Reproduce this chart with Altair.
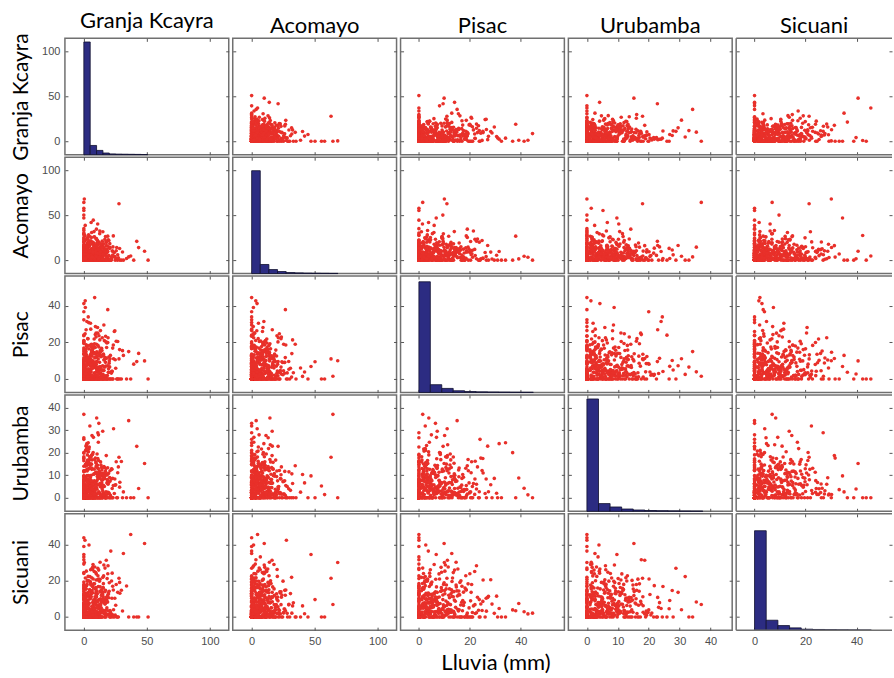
import altair as alt
import pandas as pd

STATIONS = ["Granja Kcayra", "Acomayo", "Pisac", "Urubamba", "Sicuani"]
KEYS = ["g", "a", "p", "u", "s"]

# daily rainfall (mm) read/estimated from the scatter panels
granja_kcayra = [
    0, 3.2, 12.5, 0, 7.1, 1.4, 22.3, 0, 5.6, 16.8, 0, 2.1, 9.4, 28.6, 0, 4.3, 13.2, 0.8, 18.5, 6.7,
    0, 0, 10.9, 2.6, 31.4, 8.3, 0, 14.7, 1.9, 0, 20.6, 5.2, 0, 3.8, 11.6, 0, 24.9, 7.5, 0.6, 17.3,
    4.9, 0, 0, 13.8, 2.4, 8.9, 0, 26.7, 1.2, 0, 15.4, 6.3, 37.2, 0, 3.1, 10.2, 0, 19.6, 0.4, 7.8,
    0, 12.1, 5.9, 0, 2.8, 21.7, 0, 9.7, 0, 16.2, 1.6, 4.5, 0, 29.8, 11.3, 0, 6.9, 3.5, 0, 14.1,
    8.1, 0, 2.2, 17.9, 0, 5.4, 0, 12.8, 23.6, 1.1, 0, 9.2, 3.9, 0, 43.5, 6.1, 0, 15.7, 2.9, 0,
    0, 7.3, 13.4, 0, 1.7, 0, 19.2, 4.1, 10.6, 0, 27.4, 2.3, 0, 8.6, 0, 16.5, 5.1, 0, 11.9, 0.9,
    3.6, 0, 22.8, 6.5, 0, 14.3, 0, 2.7, 9.9, 0, 1.3, 18.1, 0, 5.8, 33.9, 0, 12.4, 7.2, 0, 4.7,
    0, 10.4, 0, 3.3, 25.3, 0, 6.8, 15.1, 0, 1.5, 8.4, 0, 20.1, 2.5, 0, 11.1, 0, 4.2, 17.4, 0,
    6.2, 0, 1.8, 13.1, 0, 9.1, 0, 3.7, 48.2, 0, 5.5, 16.9, 0, 2.1, 11.8, 0, 23.1, 0, 7.6, 1.0,
    0, 14.9, 4.4, 0, 8.2, 0, 2.0, 19.8, 0, 12.6, 6.4, 0, 30.7, 1.6, 0, 3.4, 9.6, 0, 15.9, 0,
    2.6, 0, 7.9, 0, 17.1, 3.0, 0, 10.8, 0, 26.1, 4.8, 0, 13.6, 0, 1.9, 21.4, 0, 6.0, 0, 8.8,
    0, 5.0, 0, 11.4, 1.4, 0, 39.6, 7.4, 0, 15.3, 0, 3.9, 9.5, 0, 18.8, 2.2, 0, 12.9, 0, 4.0,
    10.1, 0, 3.1, 0, 6.6, 24.2, 0, 1.2, 14.0, 0, 8.0, 0, 2.8, 19.0, 0, 5.7, 0, 35.6, 0, 11.0,
    0, 1.5, 16.0, 0, 4.6, 0, 9.0, 0, 51.0, 2.4, 0, 13.0, 6.1, 0, 22.0, 0, 3.3, 0, 7.0, 17.6,
    5.3, 0, 0, 12.2, 0, 2.7, 27.9, 0, 8.5, 0, 1.1, 15.0, 0, 4.1, 0, 10.0, 0, 20.9, 6.8, 42.0,
    4.2, 9.8, 15.6, 2.3, 11.2, 6.9, 19.4, 3.1, 13.7, 8.0, 1.6, 17.2, 5.4, 10.5, 24.6, 7.7, 2.9, 14.1, 20.8, 6.2,
    12.4, 3.5, 8.6, 18.3, 1.9, 10.0, 5.9, 22.5, 9.1, 4.7, 15.0, 2.2, 11.9, 7.3, 16.4, 3.8, 26.9, 8.9, 1.2, 13.3,
    6.6, 14.8, 2.6, 9.4, 21.1, 5.0, 12.7, 1.4, 17.8, 7.9, 3.3, 10.9, 19.9, 4.5, 8.3, 13.9, 2.0, 16.0, 6.0, 11.5,
    9.5, 1.7, 18.7, 5.6, 12.0, 3.0, 7.4, 15.3, 10.2, 23.4, 4.1, 8.7, 2.5, 14.4, 6.4, 20.2, 11.1, 1.1, 9.0, 17.5,
    3.9, 11.7, 7.0, 16.7, 2.8, 13.0, 8.2, 4.9, 19.0, 1.5, 10.7, 6.8, 28.4, 12.6, 5.3, 15.9, 3.6, 9.8, 7.6, 14.6,
    15.2, 5.1, 10.3, 2.1, 8.5, 17.0, 4.4, 12.2, 6.1, 21.8, 1.8, 9.6, 13.6, 3.4, 18.1, 7.1, 11.4, 2.7, 16.3, 5.7,
    7.8, 20.5, 3.2, 13.4, 9.3, 1.0, 14.9, 6.5, 11.0, 4.0, 18.9, 8.1, 2.4, 25.7, 10.4, 5.5, 12.9, 16.8, 3.7, 9.2,
    2.9, 12.8, 17.6, 6.3, 4.6, 10.1, 22.9, 8.4, 1.3, 14.2, 7.2, 19.6, 3.0, 11.8, 5.8, 9.7, 15.5, 2.2, 13.1, 6.7,
]
acomayo = [
    0, 4.1, 0, 15.2, 8.7, 0, 2.3, 0, 21.5, 6.0, 0, 11.7, 1.2, 0, 33.1, 5.3, 0, 9.8, 0, 3.0,
    13.9, 0, 1.7, 7.4, 0, 26.2, 0, 3.6, 10.3, 0, 18.4, 0, 2.0, 0, 5.9, 12.6, 0, 44.7, 1.0, 0,
    0, 8.5, 0, 2.9, 17.0, 0, 6.2, 0, 1.4, 23.8, 0, 11.0, 4.7, 0, 0, 14.5, 3.2, 0, 68.3, 7.7,
    2.1, 0, 12.3, 0, 5.1, 0, 29.4, 1.8, 0, 9.3, 0, 16.1, 3.5, 0, 7.0, 0, 20.2, 0, 10.6, 0.7,
    0, 6.6, 0, 19.7, 0, 2.5, 11.9, 0, 4.4, 38.8, 0, 1.3, 8.1, 0, 14.0, 0, 5.6, 0, 24.6, 0,
    9.6, 0, 3.8, 0, 13.3, 0, 1.6, 7.8, 0, 17.8, 2.7, 0, 55.4, 0, 6.4, 11.2, 0, 4.0, 0, 27.6,
    0, 1.1, 10.1, 0, 22.4, 0, 5.0, 0, 3.3, 15.6, 0, 8.3, 0, 42.0, 1.9, 0, 12.8, 0, 6.9, 0,
    4.6, 0, 0, 18.9, 2.4, 0, 9.0, 31.7, 0, 5.7, 0, 13.5, 0, 1.5, 7.2, 0, 20.9, 3.1, 0, 11.5,
    0, 16.7, 0, 6.1, 1.0, 0, 25.3, 0, 10.0, 3.9, 0, 0, 64.5, 7.5, 0, 2.2, 14.8, 0, 4.9, 0,
    8.0, 0, 2.6, 0, 12.0, 35.2, 0, 5.4, 0, 1.7, 19.1, 0, 9.1, 0, 3.4, 0, 16.4, 6.3, 0, 28.5,
    0, 3.7, 11.4, 0, 1.2, 0, 7.1, 22.1, 0, 14.2, 0, 4.3, 0, 50.3, 2.8, 0, 8.8, 0, 12.7, 5.5,
    1.4, 0, 6.8, 17.4, 0, 2.9, 0, 10.7, 0, 4.2, 30.2, 0, 1.6, 0, 9.4, 0, 13.1, 0, 57.9, 3.0,
    0, 20.0, 0, 4.8, 0, 8.6, 1.9, 0, 15.9, 0, 6.5, 0, 2.5, 26.8, 0, 11.3, 0, 3.6, 0, 40.4,
    7.3, 0, 13.7, 0, 2.0, 0, 5.2, 47.1, 0, 9.7, 0, 1.1, 18.2, 0, 3.8, 0, 23.3, 0, 10.4, 0,
    0, 5.8, 0, 2.4, 12.4, 0, 63.0, 0, 7.9, 0, 3.3, 16.3, 0, 1.5, 0, 34.6, 6.7, 0, 9.2, 21.0,
    10.6, 3.0, 18.2, 7.5, 13.8, 1.6, 22.7, 5.2, 9.9, 15.4, 2.7, 26.3, 6.8, 11.6, 4.1, 19.5, 8.4, 1.9, 14.0, 30.8,
    5.6, 16.9, 2.3, 12.1, 8.8, 24.0, 4.7, 10.2, 1.4, 20.6, 7.0, 13.4, 3.6, 17.7, 9.5, 28.2, 6.1, 11.9, 2.0, 15.1,
    19.2, 8.1, 4.3, 14.7, 1.2, 10.8, 32.5, 6.4, 16.2, 3.3, 12.5, 9.0, 21.9, 2.6, 7.7, 18.0, 5.0, 13.1, 25.4, 1.7,
    3.8, 11.2, 15.8, 6.0, 20.1, 2.9, 9.3, 13.9, 4.8, 27.1, 8.6, 1.0, 17.3, 10.4, 5.7, 14.3, 2.4, 22.8, 7.2, 12.0,
    14.9, 1.5, 7.9, 23.3, 4.4, 11.5, 17.0, 3.1, 9.7, 6.6, 19.8, 2.2, 13.0, 29.6, 5.4, 10.0, 15.6, 8.3, 1.8, 21.2,
    6.9, 18.6, 10.9, 2.8, 14.5, 5.9, 26.7, 8.0, 12.8, 1.3, 16.4, 4.0, 9.2, 20.4, 3.4, 13.6, 7.4, 24.9, 11.0, 4.6,
    2.1, 13.2, 5.3, 17.9, 9.8, 22.0, 1.1, 11.4, 7.6, 15.0, 3.9, 31.9, 6.3, 10.5, 18.8, 2.5, 14.1, 8.7, 4.2, 16.6,
    12.3, 7.1, 20.9, 3.5, 10.1, 16.0, 5.8, 25.8, 1.6, 13.7, 8.9, 4.5, 19.1, 11.7, 2.0, 23.6, 6.7, 14.8, 9.4, 3.2,
]
pisac = [
    0, 2.7, 9.1, 0, 14.6, 0, 4.2, 20.3, 0, 1.5, 7.0, 0, 11.8, 0, 3.4, 0, 26.5, 5.8, 0, 16.2,
    1.0, 0, 6.3, 0, 12.9, 3.1, 0, 0, 18.7, 8.4, 0, 2.2, 0, 30.9, 4.9, 0, 10.5, 0, 1.8, 23.4,
    0, 13.5, 0, 5.0, 0, 1.3, 8.8, 0, 39.2, 2.6, 0, 15.8, 0, 6.7, 0, 3.9, 21.1, 0, 10.0, 0,
    4.4, 0, 17.5, 0, 2.0, 0, 9.6, 25.2, 0, 1.2, 12.2, 0, 5.5, 0, 0, 7.6, 0, 34.0, 3.0, 0,
    0, 8.0, 0, 1.6, 19.4, 0, 3.6, 0, 11.1, 6.0, 0, 28.7, 0, 2.4, 14.0, 0, 4.7, 0, 9.0, 1.1,
    15.1, 0, 3.3, 0, 7.3, 0, 22.6, 1.9, 0, 10.7, 0, 5.2, 0, 44.6, 2.9, 0, 13.0, 0, 6.5, 0,
    0, 4.0, 0, 12.5, 0, 2.1, 0, 18.0, 7.9, 0, 1.4, 0, 24.0, 3.8, 0, 9.3, 0, 16.6, 0, 5.4,
    2.3, 0, 10.2, 0, 5.9, 32.4, 0, 1.0, 0, 14.3, 0, 3.2, 8.6, 0, 20.8, 0, 1.7, 0, 11.4, 0,
    0, 6.9, 0, 2.8, 0, 17.2, 4.5, 0, 9.9, 0, 27.3, 0, 1.5, 13.3, 0, 5.1, 0, 36.8, 0, 3.5,
    7.7, 0, 1.2, 0, 21.9, 0, 3.0, 12.0, 0, 6.2, 0, 0, 15.5, 2.0, 0, 8.2, 0, 4.3, 29.6, 0,
    0, 11.6, 0, 4.8, 1.3, 0, 16.0, 0, 7.1, 0, 2.5, 41.3, 0, 9.4, 0, 3.7, 19.9, 0, 1.0, 0,
    5.7, 0, 13.9, 0, 2.6, 0, 8.1, 0, 23.7, 1.6, 0, 10.9, 0, 4.1, 0, 17.9, 0, 6.6, 0, 2.2,
    0, 3.1, 0, 9.8, 0, 26.0, 1.8, 0, 12.7, 5.3, 0, 0, 3.9, 38.0, 0, 7.4, 0, 15.0, 0, 1.4,
    10.3, 0, 4.6, 0, 18.5, 0, 2.0, 6.8, 0, 31.5, 0, 1.1, 0, 13.6, 3.4, 0, 22.0, 0, 8.7, 0,
    0, 1.7, 16.9, 0, 5.6, 0, 11.0, 0, 3.3, 0, 42.8, 7.2, 0, 2.7, 0, 19.0, 4.2, 0, 0, 9.5,
    8.3, 2.1, 13.6, 5.2, 18.4, 10.0, 3.7, 22.1, 6.8, 1.4, 15.2, 9.1, 4.5, 12.3, 26.4, 7.0, 2.9, 16.8, 11.1, 5.9,
    3.0, 11.9, 6.3, 19.7, 1.8, 9.4, 14.1, 4.2, 24.3, 8.0, 12.7, 2.5, 17.5, 6.0, 10.6, 3.3, 20.5, 7.8, 13.2, 1.1,
    15.8, 4.8, 9.7, 2.2, 12.9, 7.3, 21.4, 1.5, 11.2, 17.1, 5.5, 28.2, 3.6, 8.6, 14.4, 2.0, 10.2, 6.7, 19.0, 4.1,
    6.1, 16.4, 1.9, 10.8, 23.7, 3.9, 8.1, 13.0, 5.0, 18.6, 2.7, 11.5, 7.5, 15.6, 1.3, 9.9, 25.1, 4.6, 12.0, 7.1,
    11.4, 3.4, 17.8, 6.5, 1.0, 14.7, 9.2, 4.0, 20.0, 2.4, 12.6, 8.4, 16.1, 5.3, 30.5, 10.4, 3.1, 13.8, 6.9, 22.6,
    2.6, 9.5, 14.9, 7.7, 19.3, 1.6, 11.7, 5.7, 15.3, 3.2, 27.0, 8.8, 12.2, 4.3, 17.2, 6.2, 10.9, 2.3, 21.0, 13.5,
    18.1, 6.6, 3.5, 12.4, 8.9, 24.8, 4.9, 10.1, 1.7, 16.5, 7.2, 13.9, 2.8, 20.7, 9.6, 5.1, 14.6, 11.8, 3.8, 8.2,
    4.4, 13.1, 20.3, 2.0, 10.5, 6.4, 16.9, 9.0, 3.0, 12.8, 18.8, 5.6, 1.2, 14.0, 7.9, 23.0, 4.7, 11.3, 15.7, 6.0,
]
urubamba = [
    0, 3.5, 0, 8.2, 1.2, 0, 12.6, 0, 5.0, 0, 17.3, 2.1, 0, 6.9, 0, 22.5, 0, 1.8, 10.1, 0,
    4.3, 0, 14.4, 0, 2.6, 7.5, 0, 0, 1.0, 19.8, 0, 9.0, 3.7, 0, 27.9, 0, 5.6, 0, 11.8, 0,
    0, 1.5, 6.1, 0, 15.7, 0, 3.0, 0, 8.8, 0, 2.3, 13.2, 0, 4.6, 0, 35.4, 0, 7.1, 0, 1.1,
    9.6, 0, 2.8, 0, 20.7, 0, 4.0, 11.0, 0, 1.6, 0, 6.4, 0, 16.1, 0, 3.2, 0, 24.4, 0, 8.0,
    0, 5.3, 0, 1.3, 12.0, 0, 7.9, 0, 30.6, 2.5, 0, 0, 9.8, 0, 4.1, 14.9, 0, 1.9, 0, 18.2,
    2.0, 0, 10.5, 0, 3.9, 0, 6.0, 21.6, 0, 1.4, 13.7, 0, 5.2, 0, 0, 8.5, 0, 2.9, 33.0, 0,
    0, 7.0, 0, 16.8, 1.7, 0, 4.4, 0, 11.3, 0, 2.2, 0, 25.9, 6.6, 0, 1.0, 9.3, 0, 3.6, 0,
    14.0, 0, 2.4, 0, 5.8, 0, 19.3, 0, 1.2, 8.1, 0, 3.1, 0, 12.5, 0, 28.8, 4.8, 0, 0, 6.3,
    0, 1.8, 0, 10.0, 3.4, 0, 7.3, 0, 15.2, 0, 2.7, 0, 37.0, 1.1, 0, 5.5, 0, 20.0, 0, 9.1,
    4.7, 0, 13.0, 0, 1.5, 0, 23.2, 6.8, 0, 2.0, 0, 11.5, 0, 3.3, 17.6, 0, 1.3, 0, 8.6, 0,
    0, 2.9, 0, 6.2, 0, 14.6, 1.0, 0, 9.5, 0, 31.8, 4.2, 0, 0, 12.2, 0, 2.1, 18.7, 0, 5.9,
    3.8, 0, 8.9, 0, 21.0, 1.6, 0, 5.1, 0, 10.8, 0, 2.6, 15.9, 0, 7.7, 0, 26.6, 0, 1.4, 0,
    0, 11.9, 0, 4.5, 0, 1.9, 7.6, 0, 13.4, 0, 3.0, 0, 19.0, 0, 6.0, 2.2, 0, 34.2, 0, 10.3,
    6.5, 0, 1.1, 16.4, 0, 3.5, 0, 9.7, 0, 24.0, 0, 5.0, 0, 2.4, 12.9, 0, 8.3, 0, 1.7, 0,
    0, 4.9, 0, 10.9, 2.8, 0, 18.0, 0, 6.7, 0, 1.3, 29.5, 0, 3.9, 0, 14.2, 0, 7.4, 0, 22.8,
    5.2, 1.4, 9.6, 3.7, 13.1, 7.0, 2.3, 16.2, 4.8, 10.4, 1.0, 11.7, 6.1, 19.4, 8.3, 2.9, 14.6, 5.6, 12.0, 3.3,
    8.7, 12.8, 2.0, 6.6, 15.0, 1.6, 10.0, 4.1, 17.6, 7.5, 3.0, 21.8, 9.1, 1.2, 13.4, 5.0, 11.1, 2.6, 8.0, 15.9,
    2.5, 7.9, 11.9, 4.4, 1.1, 14.3, 6.3, 9.2, 18.7, 3.4, 12.5, 5.8, 2.1, 16.9, 7.2, 10.7, 4.0, 13.8, 1.7, 24.6,
    11.3, 4.6, 8.1, 14.9, 2.7, 6.9, 20.1, 1.3, 10.9, 5.4, 15.6, 3.1, 9.8, 12.3, 6.0, 1.8, 17.4, 8.5, 4.3, 13.0,
    6.4, 16.5, 3.6, 10.2, 7.7, 1.5, 12.7, 5.1, 2.4, 14.0, 9.4, 19.2, 4.7, 11.5, 2.0, 8.9, 6.7, 15.3, 26.8, 3.9,
    13.6, 2.2, 7.4, 5.3, 17.0, 9.9, 1.1, 11.8, 4.2, 8.4, 22.9, 6.2, 14.5, 3.2, 10.3, 1.9, 12.9, 7.1, 5.0, 18.1,
    3.5, 9.0, 15.2, 1.0, 6.8, 12.1, 4.9, 27.6, 8.2, 2.8, 13.3, 10.6, 5.7, 16.0, 3.8, 7.6, 1.4, 11.0, 20.4, 6.5,
    9.7, 5.9, 2.6, 12.6, 18.2, 4.5, 8.6, 1.6, 14.8, 6.7, 3.7, 10.8, 16.7, 2.3, 7.8, 13.7, 5.5, 23.5, 9.3, 4.0,
]
sicuani = [
    0, 6.4, 0, 2.0, 17.7, 0, 10.3, 0, 4.1, 27.0, 0, 1.3, 0, 13.1, 7.8, 0, 3.2, 0, 21.2, 0,
    1.6, 0, 8.9, 0, 35.1, 4.4, 0, 12.4, 0, 2.5, 0, 19.0, 6.0, 0, 0, 9.9, 1.0, 0, 15.3, 3.7,
    0, 24.5, 0, 5.1, 0, 11.2, 2.2, 0, 7.4, 0, 16.0, 0, 45.6, 3.0, 0, 8.3, 0, 1.5, 30.1, 0,
    4.9, 0, 13.7, 0, 1.1, 0, 6.7, 20.4, 0, 9.5, 2.8, 0, 0, 14.8, 0, 3.6, 26.2, 0, 5.4, 0,
    0, 2.3, 0, 10.7, 0, 18.4, 1.7, 0, 4.0, 0, 38.9, 7.1, 0, 12.0, 0, 2.6, 0, 22.7, 0, 6.2,
    11.6, 0, 3.4, 0, 8.0, 0, 28.3, 0, 1.4, 15.5, 0, 5.8, 0, 2.1, 10.0, 0, 19.6, 0, 0, 42.4,
    0, 7.6, 1.2, 0, 13.9, 0, 3.1, 0, 23.8, 5.0, 0, 9.2, 0, 1.8, 17.1, 0, 4.3, 0, 33.2, 0,
    2.9, 0, 12.8, 0, 6.5, 0, 1.0, 21.9, 0, 8.7, 0, 3.5, 14.2, 0, 0, 26.9, 5.6, 0, 1.9, 0,
    0, 16.6, 0, 4.6, 0, 9.0, 2.4, 0, 40.6, 0, 11.4, 0, 6.9, 0, 1.2, 19.3, 0, 3.9, 0, 13.0,
    7.0, 0, 2.7, 0, 25.1, 0, 5.3, 10.6, 0, 1.5, 0, 15.9, 3.3, 0, 31.6, 0, 8.4, 0, 2.0, 0,
    0, 4.2, 0, 18.0, 1.1, 0, 12.2, 0, 6.3, 0, 22.3, 2.9, 0, 9.6, 0, 36.4, 0, 1.6, 14.5, 0,
    5.7, 0, 9.4, 0, 2.2, 29.2, 0, 3.8, 0, 16.3, 0, 1.3, 7.2, 0, 11.8, 0, 4.5, 20.8, 0, 0,
    0, 1.9, 13.3, 0, 5.5, 0, 24.0, 0, 2.6, 8.0, 0, 43.8, 0, 3.4, 17.3, 0, 1.0, 0, 10.4, 6.1,
    3.0, 0, 7.9, 0, 15.1, 1.4, 0, 34.5, 0, 4.7, 12.6, 0, 2.3, 0, 19.9, 0, 6.8, 0, 27.4, 0,
    0, 10.9, 0, 2.5, 0, 8.6, 21.4, 0, 4.0, 0, 1.7, 13.6, 0, 39.8, 5.9, 0, 3.1, 0, 16.8, 0,
    7.4, 16.1, 3.1, 11.6, 22.8, 5.7, 13.2, 1.9, 9.0, 18.5, 4.3, 14.7, 26.1, 2.6, 10.3, 6.9, 20.2, 8.1, 3.5, 12.9,
    19.7, 2.4, 9.8, 5.0, 15.4, 12.1, 1.3, 24.2, 7.2, 11.0, 3.8, 17.3, 6.4, 29.0, 8.8, 2.0, 13.6, 4.7, 21.5, 10.1,
    4.0, 12.5, 18.0, 7.8, 2.9, 10.7, 6.1, 15.9, 31.3, 3.4, 9.3, 20.6, 1.5, 14.2, 5.3, 11.9, 25.3, 8.4, 2.2, 16.8,
    13.0, 6.6, 1.1, 17.7, 9.6, 4.5, 21.0, 11.3, 3.0, 14.9, 7.7, 27.6, 2.7, 12.3, 5.9, 18.9, 8.6, 1.8, 15.5, 10.5,
    2.8, 20.9, 8.0, 13.9, 4.9, 16.6, 1.4, 10.0, 23.9, 6.0, 12.8, 3.3, 19.1, 7.0, 11.5, 28.7, 5.1, 14.0, 9.1, 2.3,
    9.9, 4.1, 14.4, 2.0, 18.3, 7.5, 12.0, 5.5, 26.5, 1.7, 10.8, 16.2, 3.9, 22.4, 8.5, 13.4, 6.3, 19.8, 2.5, 11.2,
    16.0, 1.0, 11.8, 6.8, 24.7, 3.6, 9.5, 14.6, 4.8, 20.0, 8.2, 2.1, 13.1, 17.9, 5.4, 10.4, 30.2, 7.1, 12.4, 3.0,
    5.8, 13.8, 8.9, 21.7, 2.6, 11.1, 17.0, 4.4, 9.4, 15.0, 1.2, 12.7, 6.5, 25.9, 3.7, 10.9, 18.4, 7.9, 14.3, 2.9,
]

# diagonal histograms: 10 equal bins from 0 to the station maximum
hist_max = [50.6, 68.5, 44.9, 37.5, 45.8]
hist_granja = [3390, 278, 129, 51, 24, 18, 15, 12, 9, 6]
hist_acomayo = [3094, 273, 121, 61, 30, 21, 15, 12, 9, 6]
hist_pisac = [3328, 233, 121, 51, 27, 18, 14, 10, 7, 5]
hist_urubamba = [3379, 232, 130, 69, 39, 24, 17, 12, 8, 5]
hist_sicuani = [2991, 299, 138, 69, 30, 21, 15, 11, 8, 5]
hist_ylim = 3500

# axis limits and ticks
x_domains = [[-15, 115], [-15, 115], [-7.2, 57.1], [-6, 47], [-7.2, 53.9]]
y_domains = [[-15, 115], [-15, 115], [-7.4, 56.4], [-6, 45.6], [-7.3, 57.0]]
tick_values = [[0, 50, 100], [0, 50, 100], [0, 20, 40], [0, 10, 20, 30, 40], [0, 20, 40]]

WIDTHS = [164, 164, 164, 164, 156]
H = 116.5
RED = "#e8302a"
NAVY = "#2c2c82"
FRAME = "#707070"
TICK = "#555555"
LABEL_FONT = "Liberation Sans"
TITLE_FONT = "Lato"
TITLE_SIZE = 21

series = [granja_kcayra, acomayo, pisac, urubamba, sicuani]
hists = [hist_granja, hist_acomayo, hist_pisac, hist_urubamba, hist_sicuani]
n = min(len(s) for s in series)
df = pd.DataFrame({k: s[:n] for k, s in zip(KEYS, series)})
anchor = pd.DataFrame({"v": [0]})


def xscale(c):
    return alt.Scale(domain=x_domains[c], nice=False, zero=False)


def yscale(r):
    return alt.Scale(domain=y_domains[r], nice=False, zero=False)


def axis(orient, values, labels=False, **extra):
    args = dict(orient=orient, values=values, labels=labels, domain=False, grid=False,
                ticks=True, tickSize=3, tickColor=TICK, tickWidth=1, offset=-3,
                labelFont=LABEL_FONT, labelFontSize=11, labelColor="#4d4d4d",
                labelPadding=5, minExtent=0, title=None)
    args.update(extra)
    return alt.Axis(**args)


def bottom_axis(r, c):
    if r == 4 and c == 2:
        return axis("bottom", tick_values[c], labels=True, title="Lluvia (mm)",
                    titleFont=TITLE_FONT, titleFontSize=22, titleFontWeight="normal",
                    titleColor="black", titlePadding=6, titleX=95, titleAlign="center")
    return axis("bottom", tick_values[c], labels=(r == 4))


def left_axis(r, c):
    if c == 0:
        return axis("left", tick_values[r], labels=True, minExtent=26, maxExtent=26,
                    title=STATIONS[r], titleFont=TITLE_FONT, titleFontSize=TITLE_SIZE,
                    titleFontWeight="normal", titleColor="black", titlePadding=10)
    return axis("left", tick_values[r])


def frame_ticks(r, c):
    return alt.Chart(anchor).mark_point(opacity=0).encode(
        x=alt.X("v:Q", scale=xscale(c), axis=axis("top", tick_values[c])),
        y=alt.Y("v:Q", scale=yscale(r), axis=axis("right", tick_values[r])),
    )


def panel(r, c):
    w = WIDTHS[c]
    if r == c:
        m = hist_max[c]
        hdf = pd.DataFrame({
            "lo": [m * i / 10 for i in range(10)],
            "hi": [m * (i + 1) / 10 for i in range(10)],
            "count": hists[c],
            "zero": [0] * 10,
        })
        bars = alt.Chart(hdf).mark_rect(color=NAVY, stroke="#10102e", strokeWidth=0.8).encode(
            x=alt.X("lo:Q", scale=xscale(c), axis=bottom_axis(r, c)),
            x2="hi:Q",
            y=alt.Y("count:Q", scale=alt.Scale(domain=[0, hist_ylim], nice=False, zero=True), axis=None),
            y2="zero:Q",
        )
        yl = alt.Chart(anchor).mark_point(opacity=0).encode(
            x=alt.X("v:Q", scale=xscale(c), axis=None),
            y=alt.Y("v:Q", scale=yscale(r), axis=left_axis(r, c)),
        )
        layers = [bars, yl, frame_ticks(r, c)]
    else:
        pts = alt.Chart(df).mark_circle(size=13, color=RED, opacity=1).encode(
            x=alt.X(f"{KEYS[c]}:Q", scale=xscale(c), axis=bottom_axis(r, c)),
            y=alt.Y(f"{KEYS[r]}:Q", scale=yscale(r), axis=left_axis(r, c)),
        )
        layers = [pts, frame_ticks(r, c)]
    props = dict(width=w, height=H)
    if c == 4:
        rule = alt.Chart(anchor).mark_rule(color=FRAME, strokeWidth=1.5)
        layers += [
            rule.encode(x=alt.value(0), y=alt.value(0), y2=alt.value(H)),
            rule.encode(x=alt.value(0), x2=alt.value(w), y=alt.value(0)),
            rule.encode(x=alt.value(0), x2=alt.value(w), y=alt.value(H)),
        ]
        props["view"] = alt.ViewBackground(stroke="transparent")
    ch = alt.layer(*layers).resolve_scale(x="independent", y="independent")
    if r == 0:
        props["title"] = alt.TitleParams(text=STATIONS[c], font=TITLE_FONT, fontSize=22,
                                         fontWeight="normal", color="black", anchor="middle",
                                         baseline="alphabetic", offset=0, dy=17, frame="group")
    return ch.properties(**props)


cells = [panel(r, c) for r in range(5) for c in range(5)]

chart = alt.concat(*cells, columns=5, spacing={"row": 2, "column": 4},
                   bounds="flush", align="each").properties(
    padding={"left": 10, "top": 8, "right": 0, "bottom": 0},
    background="white",
).configure_view(stroke=FRAME, strokeWidth=1.5)

chart.save("out.html", embed_options={"renderer": "svg", "actions": False})
